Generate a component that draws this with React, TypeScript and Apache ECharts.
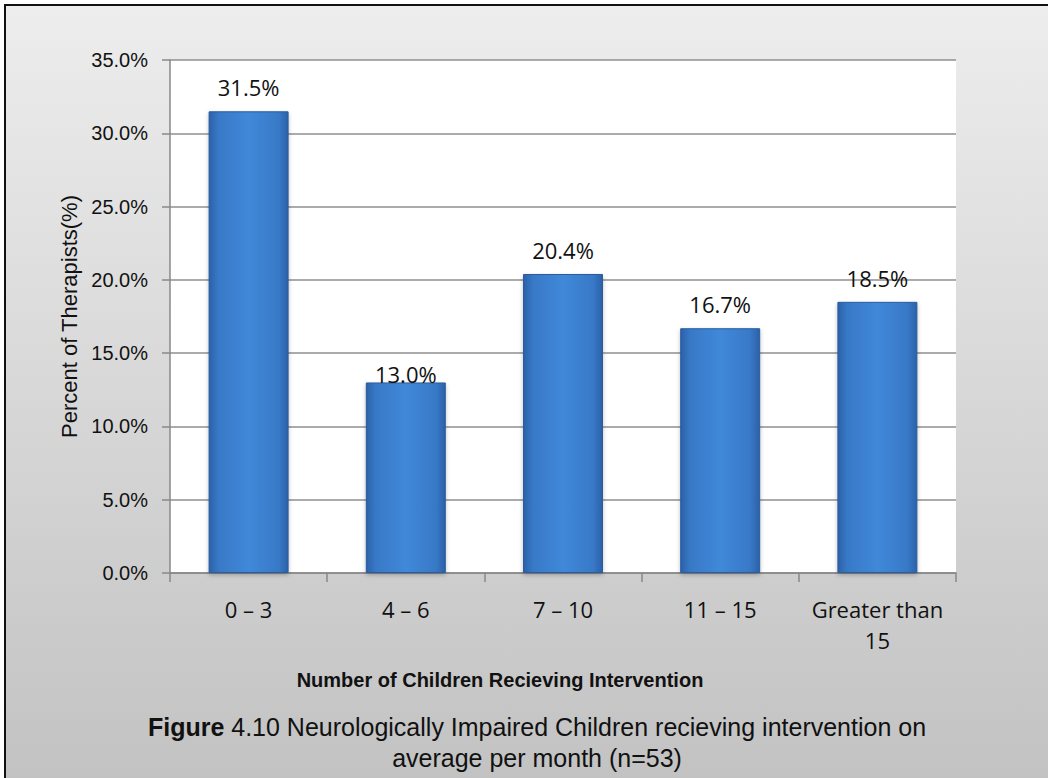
import React, { useEffect, useRef } from "react";
import * as echarts from "echarts";

const categories: string[] = ["0 – 3", "4 – 6", "7 – 10", "11 – 15", "Greater than\n15"];
const percentValues: number[] = [31.5, 13.0, 20.4, 16.7, 18.5];
const yTickLabels: string[] = ["0.0%", "5.0%", "10.0%", "15.0%", "20.0%", "25.0%", "30.0%", "35.0%"];
const yAxisTitle = "Percent of Therapists(%)";
const xAxisTitle = "Number of Children Recieving Intervention";
const captionBold = "Figure";
const captionLine1 = " 4.10 Neurologically Impaired Children recieving intervention on";
const captionLine2 = "average per month (n=53)";
// label closer to bar for this category (as in the reference)
const tightLabelIndex = 1;

const SANS = '"Liberation Sans", Arial, sans-serif';
const CAL = '"Open Sans", "Noto Sans", sans-serif';

export default function App() {
  const ref = useRef<HTMLDivElement>(null);

  useEffect(() => {
    if (!ref.current) return;
    const chart = echarts.init(ref.current, undefined, { renderer: "svg" });

    const barColor = new echarts.graphic.LinearGradient(0, 0, 1, 0, [
      { offset: 0, color: "#2b61a8" },
      { offset: 0.12, color: "#3879c7" },
      { offset: 0.5, color: "#4088d9" },
      { offset: 0.88, color: "#3879c7" },
      { offset: 1, color: "#2b61a8" },
    ]);

    const data = percentValues.map((v, i) =>
      i === tightLabelIndex ? { value: v, label: { distance: -3 } } : { value: v }
    );

    const option: any = {
      animation: false,
      backgroundColor: "#ffffff",
      graphic: [
        {
          type: "rect",
          z: -10,
          silent: true,
          shape: { x: 5, y: 5, width: 1100, height: 800 },
          style: {
            fill: new echarts.graphic.LinearGradient(0, 0, 0, 1, [
              { offset: 0, color: "#ededed" },
              { offset: 1, color: "#c1c1c1" },
            ]),
            stroke: "#111111",
            lineWidth: 2,
          },
        },
      ],
      title: {
        left: 532,
        top: 706,
        textAlign: "center",
        text: "{b|" + captionBold + "}{n|" + captionLine1 + "}\n{n|" + captionLine2 + "}",
        textStyle: {
          fontWeight: "normal",
          rich: {
            b: { fontFamily: SANS, fontSize: 25, fontWeight: "bold", color: "#111", lineHeight: 31 },
            n: { fontFamily: SANS, fontSize: 25, fontWeight: "normal", color: "#111", lineHeight: 31 },
          },
        },
      },
      grid: {
        left: 170,
        top: 60,
        width: 786,
        height: 513,
        show: true,
        backgroundColor: "#ffffff",
        borderWidth: 0,
      },
      xAxis: {
        type: "category",
        data: categories,
        name: xAxisTitle,
        nameLocation: "middle",
        nameGap: 95,
        nameTextStyle: {
          fontFamily: SANS,
          fontSize: 20,
          fontWeight: "bold",
          color: "#111",
          lineHeight: 24,
          padding: [0, 126, 0, 0],
        },
        axisLine: { show: true, lineStyle: { color: "#888888", width: 1.5 } },
        axisTick: { show: true, length: 9, alignWithLabel: false, lineStyle: { color: "#888888", width: 1.5 } },
        axisLabel: {
          fontFamily: CAL,
          fontSize: 22,
          color: "#111",
          margin: 20,
          lineHeight: 31,
          interval: 0,
        },
        splitLine: { show: false },
      },
      yAxis: {
        type: "value",
        min: 0,
        max: 35,
        interval: 5,
        name: yAxisTitle,
        nameLocation: "middle",
        nameGap: 86,
        nameRotate: 90,
        nameTextStyle: { fontFamily: SANS, fontSize: 22, color: "#111" },
        axisLine: { show: true, lineStyle: { color: "#888888", width: 1.5 } },
        axisTick: { show: true, length: 8, lineStyle: { color: "#888888", width: 1.5 } },
        axisLabel: {
          fontFamily: SANS,
          fontSize: 20,
          color: "#111",
          margin: 22,
          formatter: (v: number) => yTickLabels[Math.round(v / 5)] ?? v.toFixed(1) + "%",
        },
        splitLine: { show: true, lineStyle: { color: "#8f8f8f", width: 1.5 } },
      },
      series: [
        {
          type: "bar",
          data,
          barWidth: 80,
          itemStyle: {
            color: barColor,
            borderColor: "#2a5c9e",
            borderWidth: 1,
            shadowColor: "rgba(0,0,0,0.25)",
            shadowBlur: 4,
            shadowOffsetY: 2,
          },
          label: {
            show: true,
            position: "top",
            distance: 13,
            fontFamily: CAL,
            fontSize: 22,
            color: "#111",
            formatter: (p: any) => Number(p.value).toFixed(1) + "%",
          },
        },
      ],
    };

    chart.setOption(option);
    return () => chart.dispose();
  }, []);

  return (
    <div
      ref={ref}
      style={{ position: "absolute", left: 0, top: 0, width: 1048, height: 778 }}
    />
  );
}
